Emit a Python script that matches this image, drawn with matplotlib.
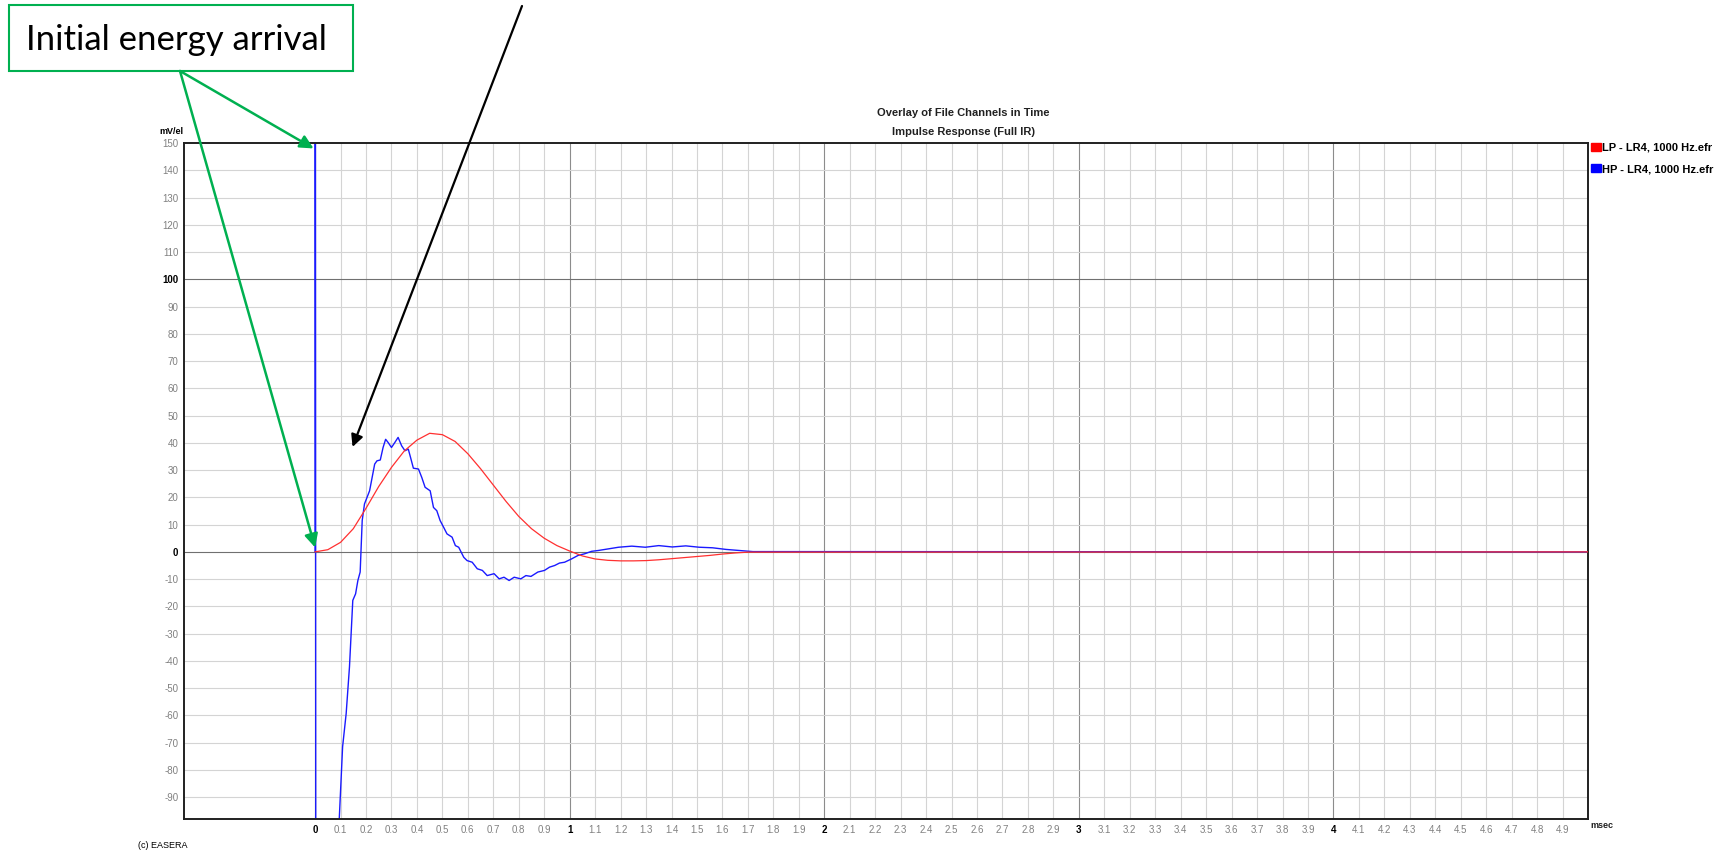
import numpy as np
import matplotlib.pyplot as plt
from matplotlib.patches import Patch, Rectangle

plt.rcParams['font.family'] = ['Liberation Sans', 'DejaVu Sans']
plt.rcParams['axes.unicode_minus'] = False

# LP channel (red), time in msec, amplitude in mV/el
lp_t = [0.0, 0.05, 0.1, 0.15, 0.2, 0.25, 0.3, 0.35, 0.4, 0.45, 0.5, 0.55, 0.6, 0.65,
        0.7, 0.75, 0.8, 0.85, 0.9, 0.95, 1.0, 1.05, 1.1, 1.15, 1.2, 1.25, 1.3, 1.35,
        1.4, 1.45, 1.5, 1.55, 1.6, 1.65, 1.7, 5.0]
lp_v = [0.0, 0.8, 3.5, 8.5, 16.0, 24.0, 31.0, 37.0, 41.0, 43.5, 43.0, 40.5, 36.0, 30.5,
        24.5, 18.5, 13.0, 8.5, 5.0, 2.3, 0.3, -1.5, -2.6, -3.1, -3.3, -3.3, -3.2, -2.9,
        -2.5, -2.1, -1.7, -1.3, -0.8, -0.4, -0.1, 0.0]

# HP channel (blue): spike at 0 runs off the scale both ways
hp_t = [0.0, 0.0, 0.004, 0.095, 0.108, 0.122, 0.135, 0.148, 0.159, 0.168, 0.177, 0.185,
        0.194, 0.214, 0.234, 0.243, 0.256, 0.267, 0.277, 0.287, 0.300, 0.313, 0.326,
        0.340, 0.353, 0.366, 0.375, 0.386, 0.406, 0.419, 0.432, 0.452, 0.465, 0.478,
        0.491, 0.505, 0.518, 0.538, 0.551, 0.564, 0.584, 0.597, 0.617, 0.637, 0.657,
        0.676, 0.703, 0.723, 0.742, 0.762, 0.782, 0.808, 0.828, 0.848, 0.875, 0.901,
        0.921, 0.941, 0.960, 0.980, 1.007, 1.033, 1.059, 1.086, 1.112, 1.152, 1.192,
        1.244, 1.297, 1.350, 1.403, 1.456, 1.509, 1.561, 1.614, 1.667, 1.720, 5.0]
hp_v = [0.0, 400.0, -400.0, -97.7, -71.5, -59.3, -42.2, -17.8, -15.4, -10.5, -7.4, 11.5,
        17.6, 22.4, 32.2, 33.4, 33.7, 38.3, 41.3, 40.1, 38.3, 40.1, 42.0,
        38.9, 37.1, 37.7, 34.6, 30.7, 30.4, 27.3, 23.7, 22.4, 16.3, 15.1,
        11.5, 9.0, 6.6, 5.4, 2.3, 1.7, -2.0, -3.2, -3.8, -6.2, -6.8,
        -8.7, -8.0, -9.9, -9.3, -10.5, -9.3, -9.9, -8.7, -9.0, -7.4, -6.8,
        -5.6, -5.0, -4.1, -3.8, -2.6, -1.3, -0.7, 0.2, 0.5, 1.1, 1.7,
        2.1, 1.7, 2.3, 1.8, 2.2, 1.7, 1.5, 0.9, 0.5, 0.1, 0.0]

lp_label = "LP - LR4, 1000 Hz.efr"
hp_label = "HP - LR4, 1000 Hz.efr"
green = '#00B050'

fig = plt.figure(figsize=(17.29, 8.5), dpi=100)
ax = fig.add_axes([184 / 1729, 31 / 850, 1404 / 1729, 676 / 850])
x0, x1, y0, y1 = -0.515, 5.0, -98, 150
ax.set_xlim(x0, x1)
ax.set_ylim(y0, y1)

# grid
xt = np.round(np.arange(0, 5.0, 0.1), 1)
xint = np.isclose(xt, np.round(xt))
vcols = ['#404040' if t == 0 else ('#8c8c8c' if k else '#d4d4d4') for t, k in zip(xt, xint)]
ax.vlines(xt, y0, y1, colors=vcols, lw=0.8, zorder=0)
yt = np.arange(-90, 151, 10)
hcols = ['#707070' if v in (0, 100) else '#d4d4d4' for v in yt[:-1]]
ax.hlines(yt[:-1], x0, x1, colors=hcols, lw=0.8, zorder=0)

ax.plot(lp_t, lp_v, color='#ff3030', lw=0.9, zorder=3)
ax.plot(hp_t, hp_v, color='#1a1aff', lw=1.0, zorder=2)

ax.set_xticks(xt)
ax.set_xticklabels(['%d' % t if k else '%.1f' % t for t, k in zip(xt, xint)])
ax.set_yticks(yt)
ax.tick_params(length=0, labelsize=7, labelcolor='#808080')
ax.tick_params(axis='x', pad=4)
ax.tick_params(axis='y', pad=4)
for lab, k in zip(ax.get_xticklabels(), xint):
    if k:
        lab.set_color('black')
        lab.set_fontweight('bold')
for lab, v in zip(ax.get_yticklabels(), yt):
    if v in (0, 100):
        lab.set_color('black')
        lab.set_fontweight('bold')
for s in ax.spines.values():
    s.set_linewidth(1.4)
    s.set_color('#202020')

fig.text(963 / 1729, 1 - 113 / 850, "Overlay of File Channels in Time", ha='center', va='center',
         fontsize=8, fontweight='bold', color='#202020')
fig.text(963 / 1729, 1 - 132 / 850, "Impulse Response (Full IR)", ha='center', va='center',
         fontsize=8, fontweight='bold', color='#202020')
fig.text(183 / 1729, 1 - 131 / 850, "mV/el", ha='right', va='center', fontsize=6.5, fontweight='bold')
fig.text(1590 / 1729, 1 - 826 / 850, "msec", ha='left', va='center', fontsize=6.5, fontweight='bold',
         color='#202020')
fig.text(138 / 1729, 1 - 845 / 850, "(c) EASERA", ha='left', va='center', fontsize=6.5)

ax.legend(handles=[Patch(color='red', label=lp_label), Patch(color='blue', label=hp_label)],
          loc='upper left', bbox_to_anchor=(1.002, 1.0), frameon=False, borderaxespad=0,
          borderpad=0, handlelength=0.9, handleheight=0.7, handletextpad=0.1,
          labelspacing=1.0, prop={'size': 8, 'weight': 'bold'})

# callouts
fig.patches.append(Rectangle((8.7 / 1729, 1 - 70.7 / 850), 344 / 1729, 65.7 / 850,
                             transform=fig.transFigure, fill=False, edgecolor=green, lw=1.5))
fig.text(26 / 1729, 1 - 50 / 850, "Initial energy arrival", ha='left', va='baseline',
         fontsize=25, family=['Lato', 'DejaVu Sans'])
for tip in [(-0.006, 148.0), (0.0, 1.6)]:
    ax.annotate('', xy=tip, xycoords='data', xytext=(180, 850 - 71), textcoords='figure pixels',
                arrowprops=dict(arrowstyle='-|>', color=green, lw=1.8, mutation_scale=20,
                                shrinkA=0, shrinkB=0), annotation_clip=False)
ax.annotate('', xy=(0.147, 38.5), xycoords='data', xytext=(522, 850 - 6), textcoords='figure pixels',
            arrowprops=dict(arrowstyle='-|>', color='black', lw=1.6, mutation_scale=18,
                            shrinkA=0, shrinkB=0), annotation_clip=False)

fig.savefig('out.png', dpi=100)
